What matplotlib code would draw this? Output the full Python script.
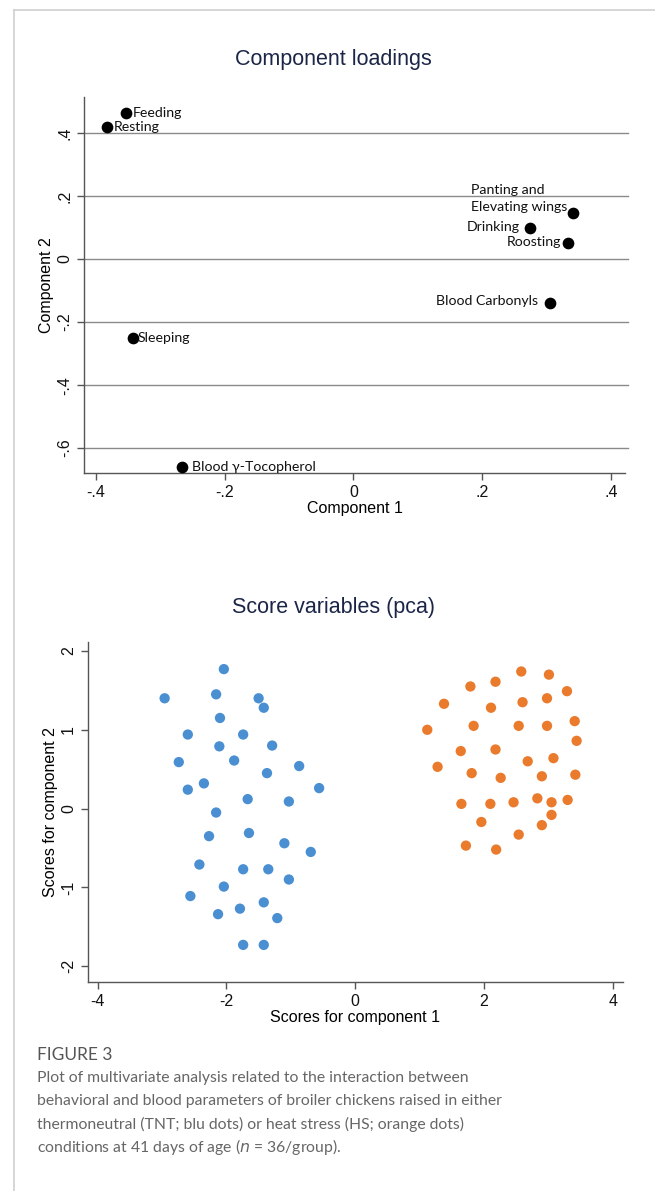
import matplotlib
matplotlib.use("Agg")
import matplotlib.pyplot as plt
from matplotlib.lines import Line2D

# loadings
load_names = ["Feeding", "Resting", "Sleeping", "Blood γ-Tocopherol",
              "Panting and\nElevating wings", "Drinking", "Roosting", "Blood Carbonyls"]
load_c1 = [-0.353, -0.383, -0.343, -0.266, 0.341, 0.274, 0.333, 0.305]
load_c2 = [0.464, 0.420, -0.252, -0.659, 0.145, 0.097, 0.050, -0.139]

# scores TNT (blue)
tnt_x = [-2.04, -2.96, -2.16, -1.50, -1.42, -2.10, -2.60, -1.74, -2.11, -1.29,
         -2.74, -1.88, -0.87, -1.37, -2.35, -2.60, -0.56, -1.67, -1.03, -2.16,
         -2.27, -1.65, -1.10, -0.69, -2.42, -1.74, -1.35, -1.03, -2.04, -2.56,
         -1.42, -1.79, -2.13, -1.21, -1.74, -1.42]
tnt_y = [1.77, 1.40, 1.45, 1.40, 1.28, 1.15, 0.94, 0.94, 0.79, 0.80,
         0.59, 0.61, 0.54, 0.45, 0.32, 0.24, 0.26, 0.12, 0.09, -0.05,
         -0.35, -0.31, -0.44, -0.55, -0.71, -0.77, -0.77, -0.90, -0.99, -1.11,
         -1.19, -1.27, -1.34, -1.39, -1.73, -1.73]

# scores HS (orange)
hs_x = [2.58, 3.01, 2.18, 1.79, 3.29, 1.38, 2.60, 2.98, 2.11, 1.12,
        1.84, 2.54, 2.98, 3.41, 3.44, 1.64, 2.18, 2.68, 3.08, 1.28,
        1.81, 2.26, 2.90, 3.42, 1.65, 2.10, 2.46, 2.83, 3.05, 3.30,
        3.05, 1.96, 2.90, 2.54, 1.72, 2.19]
hs_y = [1.74, 1.70, 1.61, 1.55, 1.49, 1.33, 1.35, 1.40, 1.28, 1.00,
        1.05, 1.05, 1.05, 1.11, 0.86, 0.73, 0.75, 0.60, 0.64, 0.53,
        0.45, 0.39, 0.41, 0.43, 0.06, 0.06, 0.08, 0.13, 0.08, 0.11,
        -0.08, -0.17, -0.21, -0.33, -0.47, -0.52]

y1_ticks = [-0.6, -0.4, -0.2, 0, 0.2, 0.4]
y1_labels = ["-.6", "-.4", "-.2", "0", ".2", ".4"]
x1_ticks = [-0.4, -0.2, 0, 0.2, 0.4]
x1_labels = ["-.4", "-.2", "0", ".2", ".4"]

title_col = "#1b2547"
spine_col = "#555555"

fig = plt.figure(figsize=(6.55, 11.91), dpi=100)

# card border
fig.add_artist(Line2D([14/655, 14/655], [0, 1 - 10/1191], color="#cfcfcf", lw=1.2))
fig.add_artist(Line2D([14/655, 1], [1 - 10/1191, 1 - 10/1191], color="#cfcfcf", lw=1.2))


def style_axes(ax):
    for s in ["top", "right"]:
        ax.spines[s].set_visible(False)
    for s in ["left", "bottom"]:
        ax.spines[s].set_color(spine_col)
        ax.spines[s].set_linewidth(1.0)
    ax.tick_params(direction="out", length=5, width=1, color=spine_col,
                   labelsize=11.5, labelcolor="#111111")
    for lab in ax.get_yticklabels():
        lab.set_rotation(90)
        lab.set_va("center")


# ---- component loadings
ax1 = fig.add_axes([84/655, 1 - 473/1191, 541/655, 376/1191])
ax1.set_xlim(-0.4186, 0.422)
ax1.set_ylim(-0.679, 0.514)
ax1.set_yticks(y1_ticks)
ax1.set_yticklabels(y1_labels, family="Liberation Sans")
ax1.set_xticks(x1_ticks)
ax1.set_xticklabels(x1_labels, family="Liberation Sans")
for t in y1_ticks:
    ax1.axhline(t, color="#8a8a8a", lw=1.0, zorder=0, clip_on=False, xmax=1.005)
ax1.scatter(load_c1, load_c2, s=55, color="black", zorder=3, clip_on=False)
style_axes(ax1)

offsets = [(7, 0, "left"), (7, 0, "left"), (5, 0, "left"), (10, 0, "left"),
           (-6, 15, "right"), (-10, 1, "right"), (-7, 1, "right"), (-12, 2, "right")]
for name, x, y, (dx, dy, ha) in zip(load_names, load_c1, load_c2, offsets):
    ax1.annotate(name, (x, y), xytext=(dx, dy), textcoords="offset pixels",
                 ha=ha, va="center", fontsize=10.2, family="Lato",
                 multialignment="left", linespacing=1.45, color="#111111")

ax1.set_xlabel("Component 1", family="Liberation Sans", fontsize=11.5, labelpad=1)
ax1.set_ylabel("Component 2", family="Liberation Sans", fontsize=11.5, labelpad=2)
fig.text(333/655, 1 - 60/1191, "Component loadings", ha="center", va="center",
         fontsize=15.5, family="Liberation Sans", color=title_col)

# ---- score variables
ax2 = fig.add_axes([87.7/655, 1 - 981.7/1191, 535.6/655, 340/1191])
ax2.set_xlim(-4.155, 4.165)
ax2.set_ylim(-2.197, 2.118)
ax2.set_xticks([-4, -2, 0, 2, 4])
ax2.set_yticks([-2, -1, 0, 1, 2])
ax2.set_xticklabels(["-4", "-2", "0", "2", "4"], family="Liberation Sans")
ax2.set_yticklabels(["-2", "-1", "0", "1", "2"], family="Liberation Sans")
ax2.scatter(tnt_x, tnt_y, s=55, color="#4a8fd2", edgecolors="none", zorder=3)
ax2.scatter(hs_x, hs_y, s=55, color="#ea7a2c", edgecolors="none", zorder=3)
style_axes(ax2)
ax2.set_xlabel("Scores for component 1", family="Liberation Sans", fontsize=11.5, labelpad=1)
ax2.set_ylabel("Scores for component 2", family="Liberation Sans", fontsize=11.5, labelpad=2)
fig.text(333/655, 1 - 607/1191, "Score variables (pca)", ha="center", va="center",
         fontsize=15.5, family="Liberation Sans", color=title_col)

# ---- caption
fig.text(37/655, 1 - 1055/1191, "FIGURE 3", ha="left", va="center",
         fontsize=12.5, family="Lato", color="#555555")
caption = ["Plot of multivariate analysis related to the interaction between",
           "behavioral and blood parameters of broiler chickens raised in either",
           "thermoneutral (TNT; blu dots) or heat stress (HS; orange dots)",
           "conditions at 41 days of age ($\\it{n}$ = 36/group)."]
for i, line in enumerate(caption):
    fig.text(37/655, 1 - (1078 + 23 * i)/1191, line, ha="left", va="center",
             fontsize=11.3, family="Lato", color="#666666")

fig.savefig("out.png", dpi=100)
